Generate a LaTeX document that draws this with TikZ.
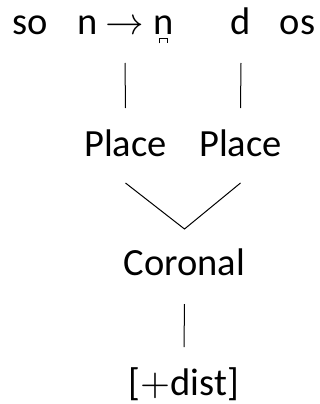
\documentclass[tikz,border=0pt]{standalone}
\usepackage{fontspec}
\usepackage{unicode-math}
\setmainfont{Carlito}
\setmathfont{Latin Modern Math}
\begin{document}
\begin{tikzpicture}[x=1pt,y=-1pt,
  lbl/.style={anchor=base,inner sep=0pt,font=\fontsize{38.5}{44}\selectfont},
  conn/.style={line width=1pt,black},
  bridge/.style={line width=1.3pt,black}]
\useasboundingbox (0,0) rectangle (320,404);
\node[lbl] (so) at (30,35) {so};
\node[lbl] (n) at (87.5,35) {n};
\node[lbl] (arr) at (125,35) {$\rightarrow$};
\node[lbl] (nb) at (163.5,35) {n};
\draw[bridge] ([xshift=-4pt,yshift=-8.5pt]nb.base) -- ([xshift=-4pt,yshift=-3.5pt]nb.base)
  -- ([xshift=4pt,yshift=-3.5pt]nb.base) -- ([xshift=4pt,yshift=-8.5pt]nb.base);
\node[lbl] (d) at (241,35) {d};
\node[lbl] (os) at (297.5,35) {os};
\node[lbl] (p1) at (125.5,156) {Place};
\node[lbl] (p2) at (240.5,156) {Place};
\node[lbl] (cor) at (184.5,275) {Coronal};
\node[lbl] (dist) at (184,395) {[$+$dist]};
\draw[conn] ([yshift=-28pt]arr.base) -- ([yshift=48pt]p1.base);
\draw[conn] ([yshift=-28pt]d.base) -- ([yshift=48pt]p2.base);
\draw[conn] ([yshift=-27pt]p1.base) -- ([yshift=46pt]cor.base) -- ([yshift=-27pt]p2.base);
\draw[conn] ([yshift=-29pt]cor.base) -- ([yshift=48pt]dist.base);
\end{tikzpicture}
\end{document}
